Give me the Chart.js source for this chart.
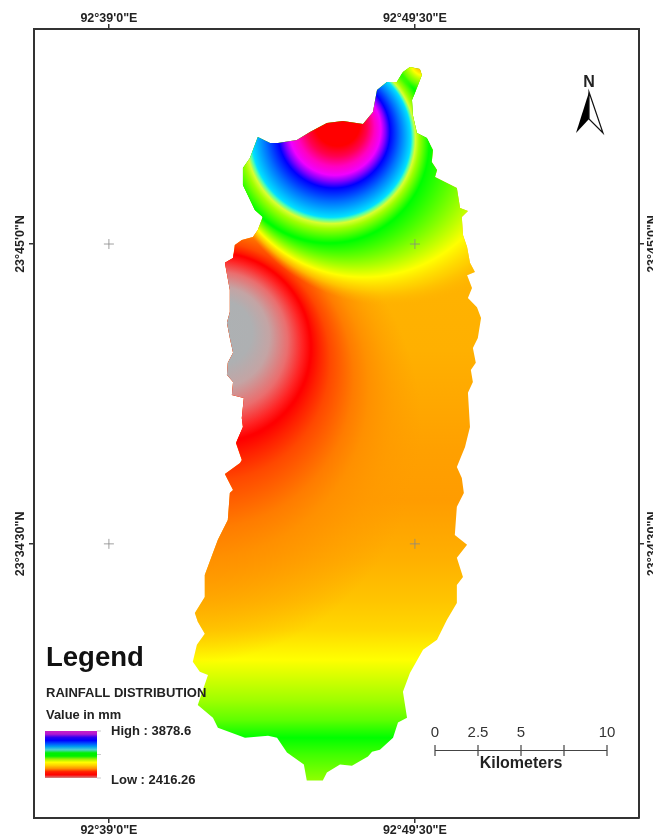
<!DOCTYPE html>
<html>
<head>
<meta charset="utf-8">
<title>Rainfall distribution</title>
<script src="https://cdn.jsdelivr.net/npm/chart.js@4"></script>
<style>
  html, body { margin: 0; padding: 0; background: #fff; }
  canvas { display: block; }
</style>
</head>
<body>
<canvas id="rainfallMap" width="653" height="838"></canvas>
<script>
// Axes are in arc minutes past 92 deg E and 23 deg N
const lonTicks = [39, 49.5];
const latTicks = [34.5, 45];
const lonTickLabels = ['92°39\'0"E', '92°49\'30"E'];
const latTickLabels = ['23°34\'30"N', '23°45\'0"N'];

// District boundary, clockwise from the northern tip
const boundaryLon = [
  49.33, 49.67, 49.74, 49.57, 49.40, 49.43, 49.57, 49.91, 50.12, 50.08, 50.26, 50.19,
  50.94, 51.05, 51.32, 51.11, 51.15, 51.29, 51.39, 51.56, 51.29, 51.46, 51.32, 51.63,
  51.77, 51.66, 51.49, 51.59, 51.42, 51.49, 51.32, 51.39, 51.22, 50.94, 51.11, 51.18,
  50.94, 50.87, 51.29, 50.94, 51.15, 50.94, 50.94, 50.60, 50.26, 49.78, 49.33, 49.09,
  49.23, 48.92, 48.75, 48.30, 48.03, 47.89, 47.34, 46.93, 46.48, 46.34, 45.79, 45.69,
  45.11, 44.77, 44.46, 43.67, 42.74, 42.57, 42.05, 42.40, 42.12, 41.88, 42.02, 42.29,
  42.05, 41.95, 42.29, 42.29, 42.57, 42.74, 43.08, 43.15, 43.26, 42.98, 43.50, 43.56,
  43.36, 43.60, 43.56, 43.63, 43.22, 43.26, 43.05, 43.08, 43.26, 43.15, 43.05, 43.15,
  43.15, 42.98, 43.26, 43.32, 43.56, 43.94, 44.11, 44.28, 44.01, 43.60, 43.60, 43.84,
  44.11, 44.53, 44.80, 45.45, 45.90, 46.48, 47.03, 47.72, 48.06, 48.20, 48.54, 48.88,
  49.09
];
const boundaryLat = [
  51.20, 51.13, 50.92, 50.46, 50.04, 49.52, 48.89, 48.71, 48.29, 47.87, 47.59, 47.35,
  46.96, 46.26, 46.16, 45.95, 45.32, 44.90, 44.34, 44.02, 43.91, 43.46, 43.11, 42.79,
  42.41, 41.71, 41.36, 40.84, 40.59, 40.17, 39.79, 38.59, 37.89, 37.19, 36.81, 36.28,
  35.80, 34.81, 34.47, 34.01, 33.34, 33.06, 32.43, 31.84, 31.14, 30.79, 29.98, 29.32,
  28.41, 28.24, 27.71, 27.29, 27.22, 27.05, 26.73, 26.77, 26.49, 26.21, 26.21, 26.77,
  27.19, 27.71, 27.78, 27.71, 28.06, 28.41, 28.86, 29.91, 30.02, 30.37, 30.97, 31.35,
  31.77, 32.08, 32.64, 33.41, 34.18, 34.64, 35.34, 36.28, 36.39, 36.95, 37.33, 37.44,
  38.03, 38.59, 38.91, 39.61, 39.71, 40.17, 40.42, 40.84, 41.19, 41.71, 42.24, 42.62,
  43.39, 44.34, 44.51, 44.97, 45.14, 45.25, 45.49, 45.95, 46.19, 47.07, 47.66, 48.01,
  48.75, 48.54, 48.54, 48.64, 48.92, 49.24, 49.31, 49.20, 49.62, 50.39, 50.67, 50.67,
  51.02
];

// Colour seen along latitude in the south of the district
const bandLat = [45.14, 41.29, 37.79, 36.04, 33.94, 32.54, 31.49, 30.44, 29.04, 28.34, 27.71, 27.12, 26.21];
const bandColours = ["#ffb400", "#ffb000", "#ffa000", "#ff9c00", "#ffb000", "#ffc400", "#ffd800", "#ffff00", "#a0ff00", "#60ff00", "#00ff00", "#40ff00", "#90ff00"];

// Scale bar and legend
const scaleBarKm = [0, 2.5, 5, 7.5, 10];
const scaleBarLabels = ["0", "2.5", "5", "", "10"];
const rampColours = ["#c81ec8", "#b018d0", "#3000f0", "#0000ff", "#0050ff", "#00a0f0", "#50d0d0", "#00f000", "#00f000", "#a0f000", "#ffff00", "#ffd000", "#ff9000", "#ff2000", "#ff0000", "#d08888"];
const rainfallHigh = 3878.6;
const rainfallLow = 2416.26;

function toPixels(chart, lon, lat) {
  return [chart.scales.x.getPixelForValue(lon), chart.scales.y.getPixelForValue(lat)];
}

// Rings between two circles, stops are [offset, colour]
function ringGradient(chart, from, to, stops) {
  const [x0, y0] = toPixels(chart, from[0], from[1]);
  const [x1, y1] = toPixels(chart, to[0], to[1]);
  const g = chart.ctx.createRadialGradient(x0, y0, from[2], x1, y1, to[2]);
  stops.forEach((s) => g.addColorStop(s[0], s[1]));
  return g;
}

function bandGradient(chart) {
  const yTop = chart.scales.y.getPixelForValue(bandLat[0]);
  const yBottom = chart.scales.y.getPixelForValue(bandLat[bandLat.length - 1]);
  const g = chart.ctx.createLinearGradient(0, yTop, 0, yBottom);
  bandLat.forEach((lat, i) => {
    const y = chart.scales.y.getPixelForValue(lat);
    g.addColorStop((y - yTop) / (yBottom - yTop), bandColours[i]);
  });
  return g;
}

// Layers of the surface, all filled inside the same boundary
const surfaceLayers = [
  // grey hollow on the west edge
  (chart) => ringGradient(chart, [42.88, 42.17, 0], [42.68, 41.36, 97], [
    [0, "#adb1b3"], [0.33, "#aeb0b2"], [0.52, "#c4a4a4"], [0.72, "#ea6e6e"], [0.88, "#ff2424"],
    [0.97, "#ff0000"], [1, "rgba(255,0,0,0)"],
  ]),
  // orange and yellow bands squeezed into the northern tip
  (chart) => ringGradient(chart, [49.86, 51.41, 0], [49.86, 51.41, 30], [
    [0, "#ff9800"], [0.3, "#ffb000"], [0.5, "#ffff00"], [0.8, "rgba(170,255,0,0.6)"], [1, "rgba(120,255,0,0)"],
  ]),
  // high in the north, red core to green
  (chart) => ringGradient(chart, [46.93, 49.41, 0], [46.55, 48.53, 102], [
    [0, "#ff0000"], [0.22, "#ff0000"], [0.3, "#ff0050"], [0.38, "#ff00c0"], [0.45, "#f000ff"],
    [0.5, "#8000ff"], [0.55, "#0000ff"], [0.66, "#0070ff"], [0.78, "#00e0ff"], [0.8, "#50ffb0"],
    [0.83, "#d8ff30"], [0.87, "#a0ff00"], [0.98, "#00ff00"], [1, "rgba(0,255,0,0)"],
  ]),
  // green to yellow falling away from the north
  (chart) => ringGradient(chart, [46.55, 48.53, 100], [48.78, 49.13, 180], [
    [0, "#00ff00"], [0.54, "#ffff00"], [0.75, "rgba(255,216,0,0.7)"], [1, "rgba(255,176,0,0)"],
  ]),
  // red to orange falling away from the hollow, drifting south as it widens
  (chart) => ringGradient(chart, [42.68, 41.36, 95], [41.03, 37.44, 300], [
    [0, "#ff0000"], [0.05, "#ff2000"], [0.12, "#ff4800"], [0.27, "#ff7c00"], [0.366, "#ff9000"],
    [0.52, "rgba(255,152,0,0.55)"], [0.7, "rgba(255,156,0,0)"],
  ]),
  bandGradient,
];

const boundaryPoints = boundaryLon.map((lon, i) => ({ x: lon, y: boundaryLat[i] }));
const crossPoints = [];
lonTicks.forEach((lon) => latTicks.forEach((lat) => crossPoints.push({ x: lon, y: lat })));

const datasets = [
  {
    type: "scatter",
    data: crossPoints,
    pointStyle: "cross",
    pointRadius: 5,
    borderColor: "#888",
    borderWidth: 0.8,
    backgroundColor: "#888",
  },
];
surfaceLayers.forEach((makeFill) => {
  datasets.push({
    type: "scatter",
    data: boundaryPoints,
    showLine: true,
    fill: "shape",
    tension: 0,
    pointRadius: 0,
    borderWidth: 0,
    backgroundColor: (context) => (context.chart.chartArea ? makeFill(context.chart) : "transparent"),
  });
});

// North arrow, scale bar and legend
const mapFurniture = {
  id: "mapFurniture",
  afterDraw(chart) {
    const { ctx } = chart;
    ctx.save();
    ctx.textBaseline = "middle";

    // North arrow
    ctx.fillStyle = "#222";
    ctx.font = 'bold 16px "Liberation Sans"';
    ctx.textAlign = "center";
    ctx.fillText("N", 589, 83);
    ctx.beginPath();
    ctx.moveTo(589, 92);
    ctx.lineTo(576, 133);
    ctx.lineTo(589, 119);
    ctx.closePath();
    ctx.fillStyle = "#000";
    ctx.fill();
    ctx.beginPath();
    ctx.moveTo(589, 92);
    ctx.lineTo(603, 133);
    ctx.lineTo(589, 119);
    ctx.closePath();
    ctx.strokeStyle = "#111";
    ctx.lineWidth = 1.2;
    ctx.stroke();

    // Scale bar, 0.59 arc minutes of longitude to the km
    const kmPixel = (km) => chart.scales.x.getPixelForValue(50.19 + km * 0.5902);
    ctx.strokeStyle = "#444";
    ctx.lineWidth = 1.2;
    ctx.beginPath();
    ctx.moveTo(kmPixel(0), 750.5);
    ctx.lineTo(kmPixel(10), 750.5);
    scaleBarKm.forEach((km) => {
      ctx.moveTo(kmPixel(km), 745);
      ctx.lineTo(kmPixel(km), 756);
    });
    ctx.stroke();
    ctx.fillStyle = "#333";
    ctx.font = '15px "Liberation Sans"';
    scaleBarKm.forEach((km, i) => ctx.fillText(scaleBarLabels[i], kmPixel(km), 733));
    ctx.fillStyle = "#222";
    ctx.font = 'bold 16px "Liberation Sans"';
    ctx.fillText("Kilometers", 521, 764);

    // Legend
    ctx.textAlign = "left";
    ctx.fillStyle = "#111";
    ctx.font = 'bold 27.5px "Liberation Sans"';
    ctx.fillText("Legend", 46, 658);
    ctx.fillStyle = "#222";
    ctx.font = 'bold 13px "Liberation Sans"';
    ctx.fillText("RAINFALL DISTRIBUTION", 46, 693);
    ctx.font = 'bold 12.9px "Liberation Sans"';
    ctx.fillText("Value in mm", 46, 715);
    ctx.font = 'bold 13px "Liberation Sans"';
    ctx.fillText("High : " + rainfallHigh, 111, 731);
    ctx.fillText("Low : " + rainfallLow, 111, 780);

    const ramp = ctx.createLinearGradient(0, 731, 0, 778);
    rampColours.forEach((c, i) => ramp.addColorStop(i / (rampColours.length - 1), c));
    ctx.fillStyle = ramp;
    ctx.fillRect(45, 731, 52, 47);
    ctx.strokeStyle = "#ccc";
    ctx.lineWidth = 1;
    ctx.beginPath();
    [731, 754.5, 778].forEach((y) => {
      ctx.moveTo(97, y);
      ctx.lineTo(101, y);
    });
    ctx.stroke();
    ctx.restore();
  },
};

function geoAxis(position, tickValues, tickLabels, size) {
  const horizontal = position === "top" || position === "bottom";
  const range = horizontal ? { min: 36.43, max: 57.19 } : { min: 24.9, max: 52.53 };
  return {
    type: "linear",
    axis: horizontal ? "x" : "y",
    position,
    min: range.min,
    max: range.max,
    border: { display: true, color: "#333", width: 2 },
    grid: { drawOnChartArea: false, drawTicks: true, tickLength: 5, color: "#333", lineWidth: 1.5 },
    afterBuildTicks: (scale) => {
      scale.ticks = tickValues.map((value) => ({ value }));
    },
    afterFit: (scale) => {
      if (horizontal) scale.height = size;
      else scale.width = size;
    },
    ticks: {
      autoSkip: false,
      padding: horizontal ? (position === "top" ? -2 : 0) : -24,
      minRotation: horizontal ? 0 : 90,
      maxRotation: horizontal ? 0 : 90,
      crossAlign: horizontal ? "near" : "center",
      color: "#222",
      font: { family: '"Liberation Sans"', size: 12.5, weight: "bold" },
      callback: (value) => tickLabels[tickValues.indexOf(value)],
    },
  };
}

new Chart(document.getElementById("rainfallMap"), {
  data: { datasets },
  options: {
    responsive: false,
    animation: false,
    layout: { padding: 0 },
    plugins: { legend: { display: false }, tooltip: { enabled: false } },
    scales: {
      x: geoAxis("bottom", lonTicks, lonTickLabels, 20),
      xTop: geoAxis("top", lonTicks, lonTickLabels, 29),
      y: geoAxis("left", latTicks, latTickLabels, 34),
      yRight: geoAxis("right", latTicks, latTickLabels, 14),
    },
  },
  plugins: [mapFurniture],
});
</script>
</body>
</html>
